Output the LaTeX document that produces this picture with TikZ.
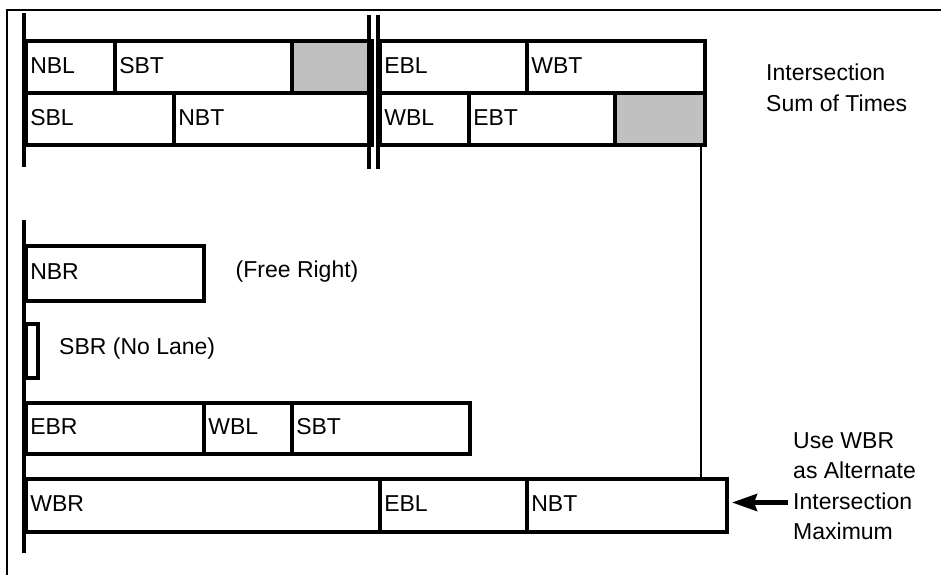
\documentclass[tikz,border=0pt]{standalone}
\usepackage{fontspec}
\setmainfont{Liberation Sans}
\usetikzlibrary{arrows.meta}
\definecolor{idlegray}{HTML}{C0C0C0}
\begin{document}
\begin{tikzpicture}[x=1pt,y=-1pt,
  every node/.style={font=\fontsize{23}{30.5}\selectfont},
  lane/.style={draw=black, line width=3.6pt, anchor=north west, inner xsep=4.5pt, inner ysep=0pt,
    align=left, text height=16.5pt, text depth=4pt, minimum height=52pt},
  idle/.style={lane, fill=idlegray},
  bar/.style={line width=3.8pt},
  frame/.style={line width=2pt},
  lbl/.style={inner sep=0pt, align=left}]
\useasboundingbox (0,0) rectangle (941,574);
% outer frame (top and left edges)
\coordinate (ftl) at (7,10);
\coordinate (ftr) at (945,10);
\coordinate (fbl) at (7,578);
\draw[frame] (ftr) -- (ftl) -- (fbl);

% ---- intersection sum of times ----
\node[lane, text width=80pt]  (nbl)   at (24,39)  {NBL};
\node[lane, text width=168pt] (sbta)  at (113,39) {SBT};
\node[idle, text width=71pt]  (idlea) at (290,39) {};
\node[lane, text width=139pt] (sbl)   at (24,91)  {SBL};
\node[lane, text width=189pt] (nbta)  at (172,91) {NBT};
\node[lane, text width=138pt] (ebla)  at (378,39) {EBL};
\node[lane, text width=169pt] (wbt)   at (525,39) {WBT};
\node[lane, text width=80pt]  (wbla)  at (378,91) {WBL};
\node[lane, text width=137pt] (ebt)   at (467,91) {EBT};
\node[idle, text width=81pt]  (idleb) at (613,91) {};

\coordinate (axat) at (24,13);  \coordinate (axab) at (24,167);
\draw[bar] (axat) -- (axab);
\coordinate (d1t) at (369,15);  \coordinate (d1b) at (369,169);
\coordinate (d2t) at (378,15);  \coordinate (d2b) at (378,169);
\draw[bar] (d1t) -- (d1b);
\draw[bar] (d2t) -- (d2b);

\node[lbl, anchor=north west] (sumtxt) at (766,64) {Intersection\\Sum of Times};

% ---- alternate ----
\node[lane, text width=169pt, minimum height=55pt] (nbr) at (24,244) {NBR};
\node[lbl, anchor=base west] (freetxt) at (235.5,277) {(Free Right)};
\node[draw=black, line width=3.6pt, anchor=north west, inner sep=0pt, minimum width=12pt, minimum height=54pt] (sbr) at (24,322) {};
\node[lbl, anchor=base west] (sbrtxt) at (59,354) {SBR (No Lane)};

\node[lane, text width=169pt, minimum height=51pt] (ebr)  at (24,401)  {EBR};
\node[lane, text width=79pt,  minimum height=51pt] (wblb) at (202,401) {WBL};
\node[lane, text width=169pt, minimum height=51pt] (sbtb) at (290,401) {SBT};

\node[lane, text width=345pt, minimum height=53pt] (wbr)  at (24,477)  {WBR};
\node[lane, text width=138pt, minimum height=53pt] (eblb) at (378,477) {EBL};
\node[lane, text width=191pt, minimum height=53pt] (nbtb) at (525,477) {NBT};

\coordinate (axbt) at (24,220);  \coordinate (axbb) at (24,553);
\draw[bar] (axbt) -- (axbb);

% thin link from the sum row down to the maximum row
\coordinate (lnkt) at (701,144);  \coordinate (lnkb) at (701,477);
\draw[line width=1.4pt] (lnkt) -- (lnkb);

% arrow and note
\node[lbl, anchor=north west] (usetxt) at (793,432) {Use WBR\\as Alternate\\Intersection\\Maximum};
\coordinate (atail) at (788,502.5);
\coordinate (atip) at (732,502.5);
\draw[line width=4.5pt, -{Stealth[length=25pt,width=17pt,inset=3pt]}] (atail) -- (atip);
\end{tikzpicture}
\end{document}
